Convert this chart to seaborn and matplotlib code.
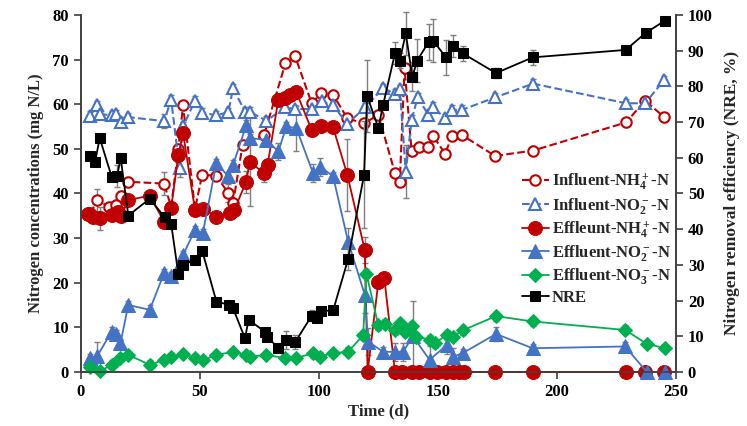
import matplotlib
matplotlib.use("Agg")
import matplotlib.pyplot as plt
import seaborn as sns
import numpy as np

# ---------------- data ----------------
inf_nh4_t = [4, 7, 12, 15, 17, 20, 35, 38, 41, 43, 48, 51, 57, 62, 64, 68, 77, 86, 90, 97,
             101, 106, 112, 119, 125, 132, 134, 136, 139, 142, 146, 148, 153, 156, 160, 174,
             190, 229, 237, 245]
inf_nh4_v = [35.5, 38.5, 37, 37.5, 39.5, 42.6, 42.2, 37, 50, 59.7, 36.5, 44.1, 44, 40, 37.8,
             50.9, 53.1, 69.2, 70.8, 60.2, 62.5, 62.1, 56.8, 55.7, 57.6, 44.5, 42.6, 68, 49.4,
             50.5, 50.5, 52.9, 48.9, 52.9, 53.1, 48.4, 49.6, 55.9, 60.8, 57.1]
inf_nh4_e = [1, 2.5, 1, 1, 1, 1, 2.5, 1, 1, 1, 1, 1, 1, 2, 1, 1, 1, 1, 1, 1,
             1, 1, 1, 1, 1, 1, 1, 1, 1, 1, 1, 1, 1, 1, 1, 1, 1, 1, 1, 1]

inf_no2_t = [4, 7, 8, 13, 15, 17, 20, 35, 38, 41.5, 43, 48, 51, 57, 62, 64, 69, 71, 78, 86,
             90, 97, 101.5, 106, 112, 119.5, 127, 132, 134, 136.5, 139, 141.5, 146, 148, 153,
             156, 160, 174, 190, 229, 237, 245]
inf_no2_v = [57.4, 59.8, 57.8, 57.5, 57.8, 56.1, 57.1, 56.2, 61, 45.6, 55, 60.8, 58.1, 57.5,
             58.2, 63.6, 58.3, 58.3, 56.3, 59.3, 58.9, 58.9, 60.6, 59.7, 55.6, 59.3, 63.6,
             62.3, 63.4, 44.9, 56.5, 61.5, 57.6, 59.4, 56.8, 58.7, 58.7, 61.5, 64.6, 60.2,
             60.2, 65.4]
inf_no2_e = [1, 1, 1, 1, 1, 1, 1, 1.5, 1, 2, 1, 1, 1, 1, 1, 1, 1, 1, 1, 1,
             1, 1, 1, 1, 1, 1, 1, 1, 1, 6, 1, 1, 1, 1, 1, 1, 1, 1, 1, 1, 1, 1]

eff_nh4_t = [3, 5, 8, 13, 15.5, 17, 20, 29, 35, 38, 41, 43, 48, 51.5, 57, 62.5, 64.5, 69.5,
             71, 77, 78.5, 83, 86, 88, 90.5, 97, 101, 106, 112, 119.3, 120.5, 125, 127.5,
             132, 135, 139, 142, 146.5, 149.5, 153.5, 156.5, 159, 161, 174, 190, 229, 237, 245]
eff_nh4_v = [35.4, 34.8, 34.4, 35.2, 35.9, 35, 38.5, 39.5, 33.7, 36.7, 48.6, 53.5, 36.3, 36.5,
             34.8, 35.6, 36.3, 42.6, 47.1, 44.5, 46.4, 61, 61.3, 62.1, 62.8, 54.2, 55, 54.8,
             44.1, 27.3, 0, 20.2, 21, 0, 0, 0, 0, 0, 0, 0, 0, 0, 0, 0, 0, 0, 0, 0]
eff_nh4_e = [1, 1, 2.5, 1, 1, 1, 1, 1, 1, 1, 1, 1, 1, 1, 1, 1, 1, 2.5, 10, 2, 1, 1, 1, 1, 1,
             1, 1, 1, 8, 3, 0, 1, 1, 0, 0, 0, 0, 0, 0, 0, 0, 0, 0, 0, 0, 0, 0, 0]

eff_no2_t = [4, 7, 13, 15, 16.7, 20, 29, 35, 38, 43, 48, 51.3, 57, 62, 64, 69.6, 71, 78, 83,
             86.4, 90.6, 97.6, 100.7, 106, 112.3, 119.3, 120.7, 127, 132, 135.4, 139.5,
             146.5, 153.7, 156.4, 160.4, 174.4, 189.8, 228.6, 237.7, 245.4]
eff_no2_v = [3.1, 3.6, 9, 8.5, 6.4, 15, 13.9, 22.1, 21.4, 26.2, 31.8, 31.1, 46.8, 43.8, 46.4,
             55.4, 52.4, 52, 49.4, 55, 54.6, 44.5, 46, 43.8, 29.2, 17.3, 6.8, 4.5, 4.5, 4.5,
             8, 2.7, 6, 3.4, 4.2, 8.5, 5.3, 5.7, 0, 0]
eff_no2_e = [1, 3, 1, 1, 1, 1, 1, 1, 1, 1, 1, 1, 1, 1, 1, 1, 1, 1, 2, 1, 5, 2, 2, 1, 3, 4, 3,
             1, 2, 2, 8, 3, 2, 2, 1, 1.5, 1, 1, 0, 0]

eff_no3_t = [4, 8, 13, 16.4, 20, 29, 35, 38, 43, 48, 51.4, 57, 64, 69.6, 71, 78, 85.7, 90.6,
             97.6, 100.4, 106, 112.3, 118.6, 120, 125, 127.7, 132, 134, 136, 139, 141,
             146.6, 148.7, 153.7, 156.4, 160.4, 174.4, 189.8, 228.6, 237.7, 245.4]
eff_no3_v = [1.2, 0.1, 1.6, 3.1, 3.8, 1.6, 2.7, 3.4, 4, 3.1, 2.7, 3.8, 4.5, 3.8, 3.4, 3.8,
             3.1, 3.1, 4.2, 3.4, 4.2, 4.5, 8.2, 22, 10.4, 10.8, 9.4, 10.9, 9, 10.2, 7.9, 7.2,
             6.4, 8.3, 7.9, 9.3, 12.5, 11.3, 9.4, 6.3, 5.3]
eff_no3_e = [0.5, 0.5, 1, 0.5, 0.5, 1, 0.5, 0.5, 0.5, 0.5, 0.5, 0.5, 0.5, 0.5, 0.5, 0.5,
             0.5, 0.5, 1, 1, 0.5, 1, 1, 1, 1, 1, 1, 1, 1, 1, 1, 1, 1, 1, 1, 1, 1, 1, 1, 0.5, 0.5]

nre_t = [4, 6, 8, 13, 15.3, 16.8, 20, 29, 35.3, 38, 41, 43, 48, 51, 57, 62.3, 64, 69, 70.5,
         77.3, 78.3, 83, 86.4, 90, 97, 99.3, 101, 106, 112.3, 119, 120.3, 125, 127, 132, 134,
         136.5, 139.3, 141.3, 146.2, 148, 153.4, 156.4, 160.5, 174.4, 189.8, 228.9, 237.3, 245.4]
nre_v = [60.5, 58.7, 65.5, 54.7, 54.9, 59.9, 43.8, 48.5, 43.3, 41.5, 27.4, 30, 31.4, 34, 19.7,
         18.8, 17.8, 9.4, 14.6, 11.3, 9.9, 6.6, 9, 8.3, 15.7, 15, 17.1, 17.2, 31.6, 55.2, 77.3,
         68.3, 74.8, 89.3, 87.2, 94.8, 82.7, 87.2, 92.5, 92.8, 88.1, 91.3, 89.2, 83.7, 88.1,
         90.2, 95, 98.4]
nre_e = [1, 1, 1, 1, 3, 1, 1, 1, 1, 1, 1, 1, 1, 1, 1, 1, 1, 1, 1, 1, 1, 1, 2.5, 2, 1.5, 1,
         1, 1, 3, 15, 10, 1, 1, 3, 2, 6, 4, 6, 5, 6, 5, 3, 2, 1.5, 2, 1, 1, 1]

labels = [r"Influent-NH$_4^+$-N", r"Influent-NO$_2^-$-N", r"Effleunt-NH$_4^+$-N",
          r"Effluent-NO$_2^-$-N", r"Effluent-NO$_3^-$-N", "NRE"]

# ---------------- style ----------------
sns.set_style("ticks")
plt.rcParams["font.family"] = ["Liberation Serif", "DejaVu Serif"]
plt.rcParams["font.weight"] = "bold"
plt.rcParams["mathtext.fontset"] = "custom"
plt.rcParams["mathtext.rm"] = "Liberation Serif:bold"
plt.rcParams["mathtext.it"] = "Liberation Serif:bold"
plt.rcParams["mathtext.bf"] = "Liberation Serif:bold"

RED = "#C00000"
BLUE = "#4472C4"
GREEN = "#00B050"
GREY = "#7F7F7F"

fig = plt.figure(figsize=(7.47, 4.26), dpi=100)
ax = fig.add_axes([0.108, 0.127, 0.797, 0.838])
ax2 = ax.twinx()

def err(a, t, v, e):
    a.errorbar(t, v, yerr=e, fmt="none", ecolor=GREY, elinewidth=1.0, capsize=2.5,
               capthick=1.0, zorder=1, clip_on=False)

err(ax, inf_nh4_t, inf_nh4_v, inf_nh4_e)
err(ax, inf_no2_t, inf_no2_v, inf_no2_e)
err(ax, eff_nh4_t, eff_nh4_v, eff_nh4_e)
err(ax, eff_no2_t, eff_no2_v, eff_no2_e)
err(ax, eff_no3_t, eff_no3_v, eff_no3_e)
err(ax2, nre_t, nre_v, nre_e)

sns.lineplot(x=inf_nh4_t, y=inf_nh4_v, ax=ax, color=RED, linestyle="--", linewidth=1.5,
             marker="o", markersize=7.5, markerfacecolor="white", markeredgecolor=RED,
             markeredgewidth=1.5, label=labels[0], zorder=3, clip_on=False)
sns.lineplot(x=inf_no2_t, y=inf_no2_v, ax=ax, color=BLUE, linestyle="--", linewidth=1.5,
             marker="^", markersize=8.5, markerfacecolor="white", markeredgecolor=BLUE,
             markeredgewidth=1.5, label=labels[1], zorder=3, clip_on=False)
sns.lineplot(x=eff_nh4_t, y=eff_nh4_v, ax=ax, color=RED, linestyle="-", linewidth=1.3,
             marker="o", markersize=10, markerfacecolor=RED, markeredgecolor=RED,
             label=labels[2], zorder=4, clip_on=False)
sns.lineplot(x=eff_no2_t, y=eff_no2_v, ax=ax, color=BLUE, linestyle="-", linewidth=1.3,
             marker="^", markersize=9.5, markerfacecolor=BLUE, markeredgecolor=BLUE,
             label=labels[3], zorder=4, clip_on=False)
sns.lineplot(x=eff_no3_t, y=eff_no3_v, ax=ax, color=GREEN, linestyle="-", linewidth=1.3,
             marker="D", markersize=7, markerfacecolor=GREEN, markeredgecolor=GREEN,
             label=labels[4], zorder=4, clip_on=False)
sns.lineplot(x=nre_t, y=nre_v, ax=ax2, color="black", linestyle="-", linewidth=1.3,
             marker="s", markersize=7.5, markerfacecolor="black", markeredgecolor="black",
             label=labels[5], zorder=5, clip_on=False)

h1, l1 = ax.get_legend_handles_labels()
h2, l2 = ax2.get_legend_handles_labels()
if ax.get_legend():
    ax.get_legend().remove()
if ax2.get_legend():
    ax2.get_legend().remove()

ax.set_xlim(0, 250)
ax.set_ylim(0, 80)
ax2.set_ylim(0, 100)
ax.set_xticks(np.arange(0, 251, 50))
ax.set_yticks(np.arange(0, 81, 10))
ax2.set_yticks(np.arange(0, 101, 10))

for a in (ax, ax2):
    for s in a.spines.values():
        s.set_color("#404040")
        s.set_linewidth(1.2)
    a.spines["top"].set_visible(False)
    a.tick_params(direction="out", length=5, width=1.2, colors="#404040",
                  labelcolor="black", labelsize=12)
    for lab in a.get_xticklabels() + a.get_yticklabels():
        lab.set_fontweight("bold")

ax.set_xlabel("Time (d)", fontsize=12, fontweight="bold", labelpad=3)
ax.set_ylabel("Nitrogen concentrations (mg N/L)", fontsize=12, fontweight="bold", labelpad=6)
ax2.set_ylabel("Nitrogen removal efficiency (NRE, %)", fontsize=12.5, fontweight="bold",
               labelpad=8)

leg = ax2.legend(h1 + h2, l1 + l2, loc="center left", bbox_to_anchor=(0.69, 0.44),
                 bbox_transform=fig.transFigure, frameon=False, fontsize=12,
                 handlelength=1.6, handletextpad=0.2, labelspacing=0.2, borderaxespad=0)
for txt in leg.get_texts():
    txt.set_fontweight("bold")

fig.savefig("out.png", dpi=100)
